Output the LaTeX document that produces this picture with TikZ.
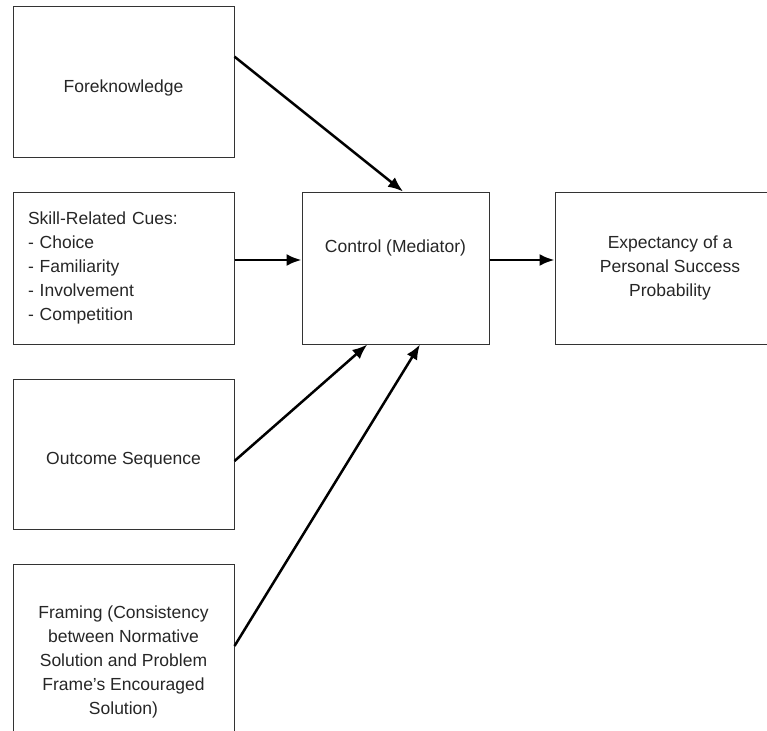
\documentclass[tikz,border=0pt]{standalone}
\usepackage{fontspec}
\setmainfont{Liberation Sans}
\usetikzlibrary{arrows.meta,calc,positioning}

\begin{document}
\begin{tikzpicture}[x=1pt,y=-1pt,>=Latex,
    font=\fontsize{17.5}{24}\selectfont,
    box/.style={draw=black!80,line width=1pt,minimum width=221pt,
                inner sep=0pt,align=center,text=black!85},
    arr/.style={line width=2.5pt,
                arrows={-Latex[length=15pt,width=12pt]}}]
  \def\bx{123.5}      % centre x of the left column
  \def\cx{395.5}      % centre x of the mediator
  \def\ry{268}        % centre y of the middle row

  \clip (0,0) rectangle (767,730);

  % --- left column
  \node[box,minimum height=151pt,text height=24pt,text depth=4pt] (fore) at (\bx,82.5) {Foreknowledge};
  \node[box,minimum height=152pt,align=left,text width=191pt,inner xsep=15pt]
       (skill) at (\bx,\ry)
       {Skill-Related Cues:\\- Choice\\- Familiarity\\- Involvement\\- Competition};
  \node[box,minimum height=150pt,text height=24pt,text depth=4pt] (outc) at (\bx,454) {Outcome Sequence};
  \node[box,minimum height=196pt] (fram) at (\bx,662)
       {Framing (Consistency\\between Normative\\Solution and Problem\\Frame's Encouraged\\Solution)};

  % --- mediator and outcome
  \node[box,minimum width=187pt,minimum height=152pt] (ctrl) at (\cx,\ry) {};
  \node[text=black!85] (ctrltxt) at ([yshift=20pt]ctrl.center) {Control (Mediator)};
  \node[box,minimum width=230pt,minimum height=152pt] (expc) at (670,\ry)
       {Expectancy of a\\Personal Success\\Probability};

  % --- arrows
  \draw[arr] ($(fore.north east)!0.33!(fore.south east)$)
          -- ($(ctrl.north west)!0.54!(ctrl.north east)$);
  \draw[arr] ([yshift=8pt]skill.east) -- ([yshift=8pt]ctrl.west);
  \draw[arr] ([yshift=8pt]ctrl.east) -- ([yshift=8pt]expc.west);
  \draw[arr] ([yshift=-7pt]outc.east)
          -- ($(ctrl.south west)!0.35!(ctrl.south east)$);
  \draw[arr] ([yshift=16pt]fram.east)
          -- ($(ctrl.south west)!0.63!(ctrl.south east)$);
\end{tikzpicture}
\end{document}
